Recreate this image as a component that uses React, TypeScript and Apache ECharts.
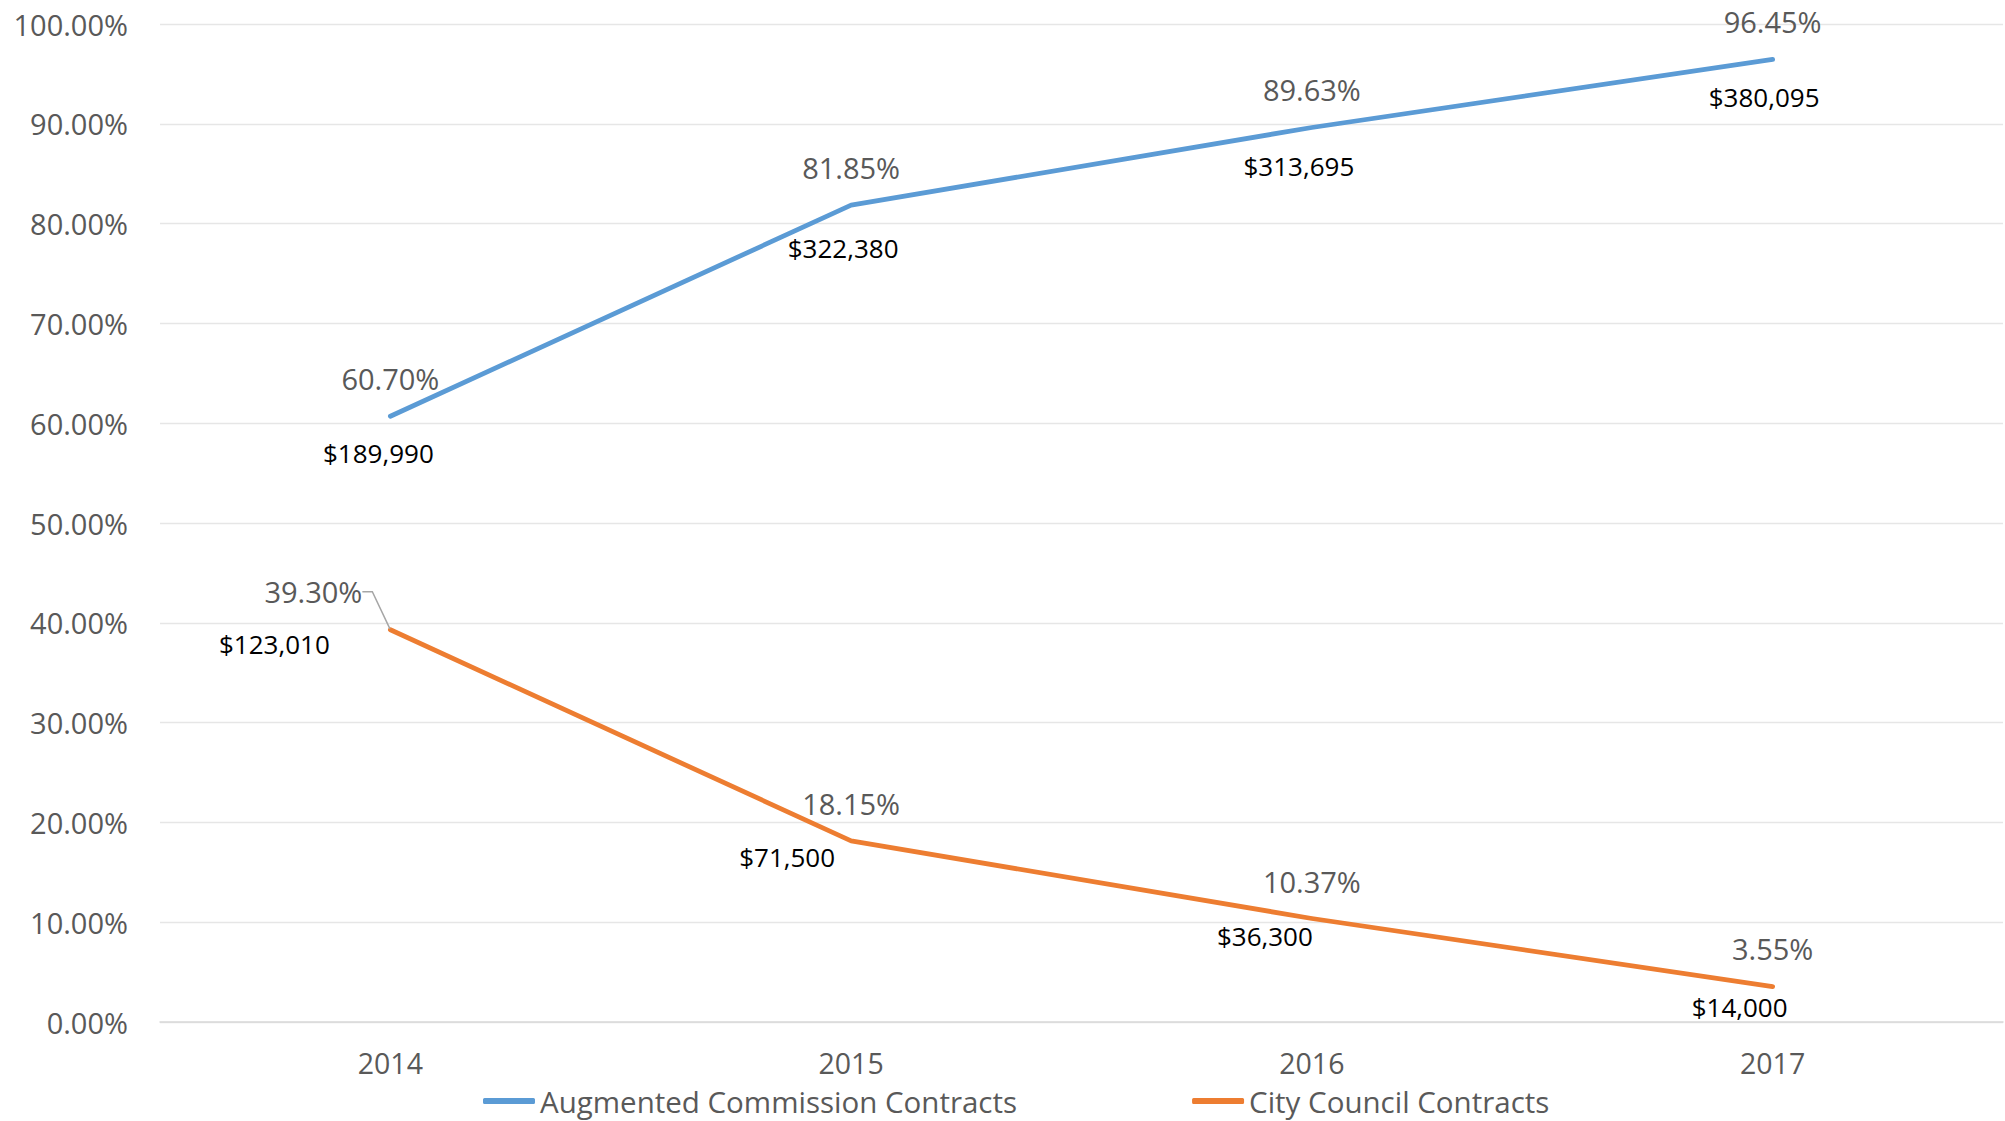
import React, { useEffect, useRef } from "react";
import * as echarts from "echarts";

const years = ["2014", "2015", "2016", "2017"];
const augmentedPct = [60.7, 81.85, 89.63, 96.45];
const augmentedAmt = [189990, 322380, 313695, 380095];
const councilPct = [39.3, 18.15, 10.37, 3.55];
const councilAmt = [123010, 71500, 36300, 14000];
const seriesNames = ["Augmented Commission Contracts", "City Council Contracts"];

// label offsets (layout only)
const augPctOffsets = [[0, -38], [0, -38], [0, -38], [0, -38]];
const augAmtOffsets = [[-12, 37], [-8, 43], [-13, 38.5], [-8.5, 38]];
const cccPctOffsets = [[-72, -38], [0, -37], [0, -37.5], [0, -38]];
const cccAmtOffsets = [[-116, 14], [-64, 16], [-47, 17.5], [-33, 20]];

const BLUE = "#5B9BD5";
const ORANGE = "#ED7D31";
const FONT = "'Open Sans', 'Noto Sans', sans-serif";

const fmtPct = (v: number) => v.toFixed(2) + "%";
const fmtAmt = (v: number) => "$" + v.toLocaleString("en-US");

function pctSeries(name: string, values: number[], offsets: number[][], color: string, leaderIndex: number) {
  return {
    name,
    type: "line",
    data: values.map((v, i) => ({
      value: v,
      label: i === leaderIndex ? { offset: offsets[i], padding: [0, 10, 0, 0] } : { offset: offsets[i] },
      labelLine: i === leaderIndex ? { show: true, length2: 10, lineStyle: { color: "#a6a6a6", width: 1.5 } } : { show: false },
    })),
    symbol: "circle",
    symbolSize: 2,
    itemStyle: { color },
    lineStyle: { color, width: 4.8, cap: "round", join: "round" },
    z: 3,
    label: {
      show: true,
      position: "inside",
      align: "center",
      verticalAlign: "middle",
      color: "#595959",
      fontFamily: FONT,
      fontSize: 29,
      formatter: (p: any) => fmtPct(p.value),
    },
  };
}

function amtSeries(id: string, values: number[], amounts: number[], offsets: number[][], color: string) {
  return {
    name: id,
    type: "line",
    data: values.map((v, i) => ({ value: v, label: { offset: offsets[i] } })),
    symbol: "circle",
    symbolSize: 2,
    itemStyle: { color },
    lineStyle: { opacity: 0 },
    silent: true,
    z: 2,
    label: {
      show: true,
      position: "inside",
      align: "center",
      verticalAlign: "middle",
      color: "#000000",
      fontFamily: FONT,
      fontSize: 26,
      formatter: (p: any) => fmtAmt(amounts[p.dataIndex]),
    },
  };
}

export default function App() {
  const ref = useRef<HTMLDivElement>(null);
  useEffect(() => {
    const chart = echarts.init(ref.current!, null, { renderer: "svg" });
    chart.setOption({
      animation: false,
      backgroundColor: "#ffffff",
      grid: { left: 160, right: 2, top: 24, bottom: 99, containLabel: false },
      legend: {
        data: seriesNames,
        left: 483,
        top: 1086,
        padding: 0,
        itemGap: 175,
        itemWidth: 52,
        itemHeight: 6,
        icon: "roundRect",
        textStyle: { color: "#595959", fontFamily: FONT, fontSize: 29.5 },
      },
      xAxis: {
        type: "category",
        data: years,
        boundaryGap: true,
        axisTick: { show: false },
        axisLine: { lineStyle: { color: "#d9d9d9", width: 1.5 } },
        axisLabel: { color: "#595959", fontFamily: FONT, fontSize: 28.5, margin: 26 },
      },
      yAxis: {
        type: "value",
        min: 0,
        max: 100,
        interval: 10,
        axisLine: { show: false },
        axisTick: { show: false },
        splitLine: { lineStyle: { color: "#e6e6e6", width: 1.3 } },
        axisLabel: { color: "#595959", fontFamily: FONT, fontSize: 29, margin: 32, formatter: (v: number) => fmtPct(v) },
      },
      series: [
        pctSeries(seriesNames[0], augmentedPct, augPctOffsets, BLUE, -1),
        pctSeries(seriesNames[1], councilPct, cccPctOffsets, ORANGE, 0),
        amtSeries("augAmt", augmentedPct, augmentedAmt, augAmtOffsets, BLUE),
        amtSeries("cccAmt", councilPct, councilAmt, cccAmtOffsets, ORANGE),
      ],
    });
    return () => chart.dispose();
  }, []);
  return (
    <div
      ref={ref}
      style={{ position: "fixed", left: 0, top: 0, width: 2005, height: 1121, background: "#fff" }}
    />
  );
}
